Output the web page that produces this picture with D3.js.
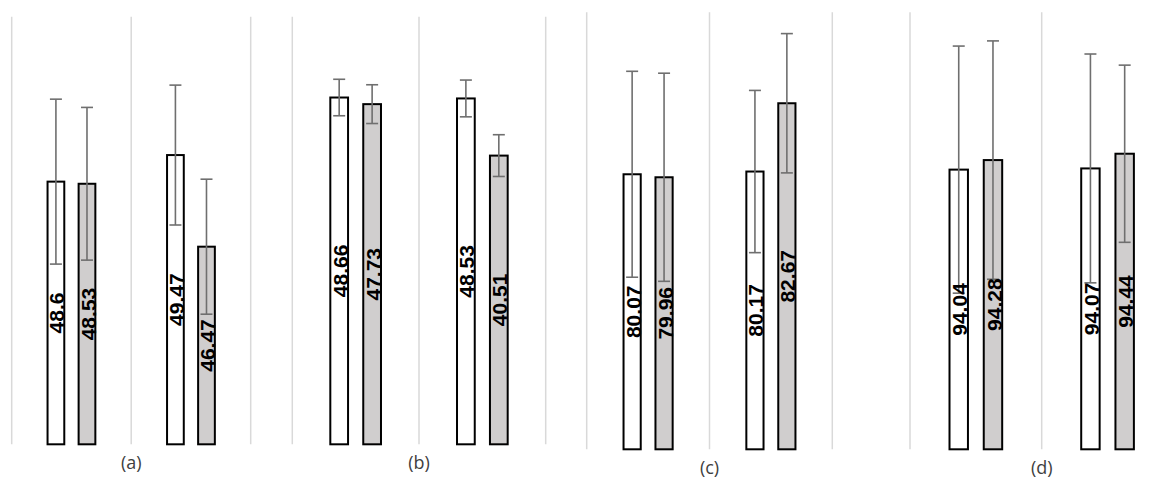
<!DOCTYPE html>
<html>
<head>
<meta charset="utf-8">
<script src="https://cdn.jsdelivr.net/npm/d3@7"></script>
<style>
  body { margin: 0; background: #fff; }
  svg { display: block; }
</style>
</head>
<body>
<svg id="chart"></svg>
<script>
const chartWidth = 1162;
const chartHeight = 479;

// data
const panelNames = ["(a)", "(b)", "(c)", "(d)"];
const groupNames = ["g1", "g2"];
const whiteValues = [[48.6, 49.47], [48.66, 48.53], [80.07, 80.17], [94.04, 94.07]];
const grayValues = [[48.53, 46.47], [47.73, 40.51], [79.96, 82.67], [94.28, 94.44]];
const whiteErrors = [[2.70, 2.29], [2.56, 2.58], [3.77, 2.97], [3.11, 2.88]];
const grayErrors = [[2.50, 2.21], [2.72, 2.93], [3.81, 2.55], [3.00, 2.23]];
const yDomains = [[40, 54], [0, 60], [70, 86], [87, 98]];

// where each small chart sits on the page
const panelLayout = [
  { left: 11.7, right: 250.7, top: 16.7, bottom: 444.3 },
  { left: 292.3, right: 545.7, top: 16.7, bottom: 444.3 },
  { left: 586.7, right: 832.3, top: 12.3, bottom: 449.3 },
  { left: 910, right: 1173.4, top: 12.3, bottom: 449.3 }
];

const svg = d3.select("#chart")
  .attr("width", chartWidth)
  .attr("height", chartHeight);

panelNames.forEach((name, p) => {
  const lay = panelLayout[p];
  const g = svg.append("g");

  const x = d3.scaleBand()
    .domain(groupNames)
    .range([lay.left, lay.right])
    .padding(0);

  const y = d3.scaleLinear()
    .domain(yDomains[p])
    .range([lay.bottom, lay.top]);

  const band = x.bandwidth();
  const barW = band * 0.14;
  const gap = band * 0.12;

  // category separators
  const edges = groupNames.map(d => x(d)).concat([lay.right]);
  g.selectAll("line.grid")
    .data(edges)
    .enter()
    .append("line")
    .attr("class", "grid")
    .attr("x1", d => d).attr("x2", d => d)
    .attr("y1", lay.top).attr("y2", lay.bottom)
    .attr("stroke", "#d9d9d9")
    .attr("stroke-width", 1.5);

  const bars = [];
  groupNames.forEach((gn, i) => {
    const c = x(gn) + band / 2;
    bars.push({ x: c - gap / 2 - barW, v: whiteValues[p][i], e: whiteErrors[p][i], fill: "#ffffff" });
    bars.push({ x: c + gap / 2, v: grayValues[p][i], e: grayErrors[p][i], fill: "#d0cece" });
  });

  g.selectAll("rect.bar")
    .data(bars)
    .enter()
    .append("rect")
    .attr("class", "bar")
    .attr("x", d => d.x)
    .attr("y", d => y(d.v))
    .attr("width", barW)
    .attr("height", d => y(yDomains[p][0]) - y(d.v))
    .attr("fill", d => d.fill)
    .attr("stroke", "#000")
    .attr("stroke-width", 2);

  // error bars
  const err = g.selectAll("g.err")
    .data(bars)
    .enter()
    .append("g")
    .attr("class", "err")
    .attr("stroke", "#6f6f6f")
    .attr("stroke-width", 1.6);

  err.append("line")
    .attr("x1", d => d.x + barW / 2).attr("x2", d => d.x + barW / 2)
    .attr("y1", d => y(d.v + d.e)).attr("y2", d => y(d.v - d.e));
  err.append("line")
    .attr("x1", d => d.x + barW / 2 - 6).attr("x2", d => d.x + barW / 2 + 6)
    .attr("y1", d => y(d.v + d.e)).attr("y2", d => y(d.v + d.e));
  err.append("line")
    .attr("x1", d => d.x + barW / 2 - 6).attr("x2", d => d.x + barW / 2 + 6)
    .attr("y1", d => y(d.v - d.e)).attr("y2", d => y(d.v - d.e));

  // value labels inside bars
  g.selectAll("text.val")
    .data(bars)
    .enter()
    .append("text")
    .attr("class", "val")
    .attr("transform", d => `translate(${d.x + barW / 2 + 1}, ${(y(d.v) + y(yDomains[p][0])) / 2}) rotate(-90)`)
    .attr("text-anchor", "middle")
    .attr("dy", "0.36em")
    .style("font-family", "'Liberation Sans', Arial, sans-serif")
    .style("font-size", "21px")
    .style("font-weight", "bold")
    .style("fill", "#000")
    .text(d => d.v);

  // panel label
  g.append("text")
    .attr("x", x(groupNames[1]))
    .attr("y", lay.bottom + 20)
    .attr("text-anchor", "middle")
    .attr("dominant-baseline", "middle")
    .style("font-family", "'Open Sans', 'Liberation Sans', sans-serif")
    .style("font-size", "18px")
    .style("fill", "#404040")
    .text(name);
});
</script>
</body>
</html>
